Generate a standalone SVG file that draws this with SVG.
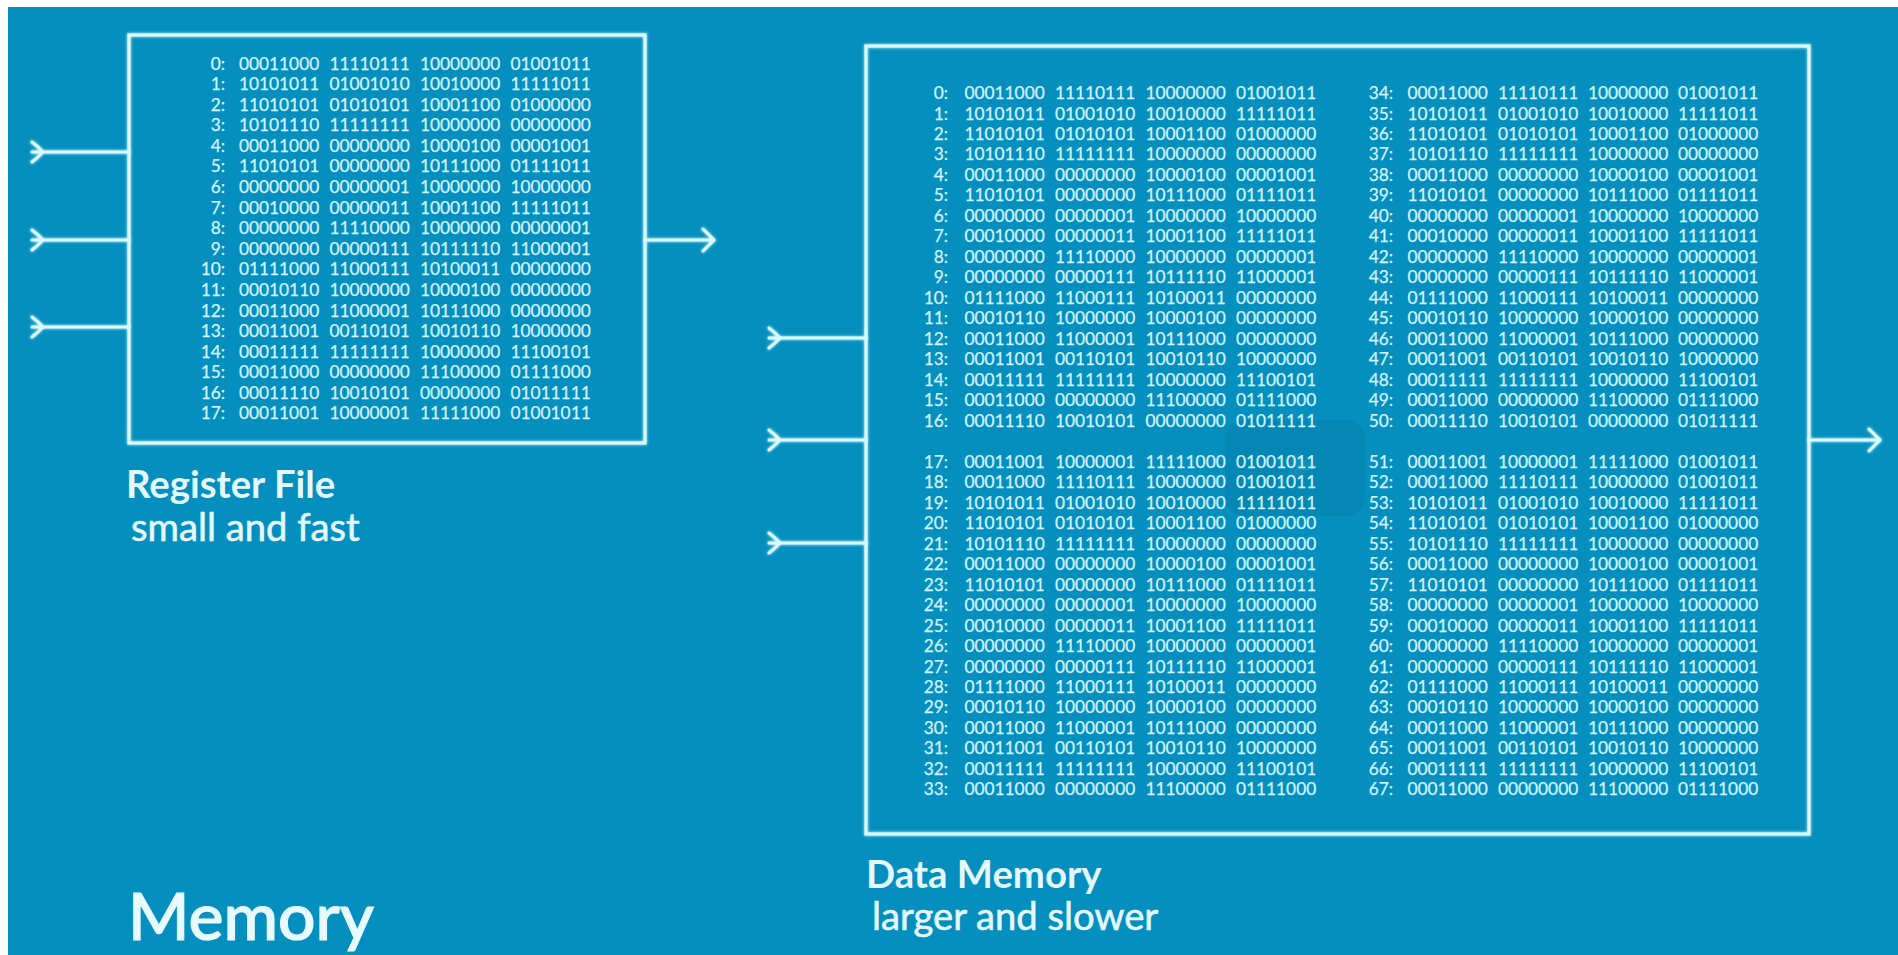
<svg xmlns="http://www.w3.org/2000/svg" width="1898" height="955" viewBox="0 0 1898 955">
  <style>
    .bg { fill: #048fbf; }
    .wire { fill: none; stroke: #d9fbff; stroke-width: 3; stroke-linecap: round; stroke-linejoin: round; }
    .frame { fill: none; stroke: #d9fbff; stroke-width: 3.2; }
    .bits { font-family: Lato, "Liberation Sans", sans-serif; font-size: 17.3px; fill: #d4f4ff; stroke: #d4f4ff; stroke-width: 0.25; }
    .idx { text-anchor: end; }
    .title { font-family: Lato, "Liberation Sans", sans-serif; font-weight: 700; font-size: 38.3px; fill: #e4f9ff; }
    .sub { font-family: Lato, "Liberation Sans", sans-serif; font-size: 38.2px; fill: #e4f9ff; stroke: #e4f9ff; stroke-width: 0.6; }
    .heading { font-family: Lato, "Liberation Sans", sans-serif; font-weight: 500; font-size: 66px; fill: #e6faff; stroke: #e6faff; stroke-width: 1.2; }
  </style>
  <defs>
    <filter id="glow" x="-5%" y="-5%" width="110%" height="110%">
      <feGaussianBlur in="SourceGraphic" stdDeviation="1.8" result="b"/>
      <feMerge>
        <feMergeNode in="b"/>
        <feMergeNode in="SourceGraphic"/>
      </feMerge>
    </filter>
    <marker id="tail" markerUnits="userSpaceOnUse" markerWidth="16" markerHeight="26" viewBox="-2 -13 16 26" refX="0" refY="0" orient="auto">
      <path d="M0,-10 Q6.5,-5 11,0 Q6.5,5 0,10" fill="none" stroke="#d9fbff" stroke-width="3" stroke-linecap="round"/>
    </marker>
    <marker id="head" markerUnits="userSpaceOnUse" markerWidth="16" markerHeight="28" viewBox="-14 -14 16 28" refX="0" refY="0" orient="auto">
      <path d="M-11,-11 L0,0 L-11,11" fill="none" stroke="#d9fbff" stroke-width="3" stroke-linecap="round" stroke-linejoin="round"/>
    </marker>
  </defs>

  <!-- canvas -->
  <rect width="1898" height="955" fill="#ffffff"/>
  <rect class="bg" x="8" y="7" width="1890" height="948"/>

  <!-- faint overlay badge -->
  <rect x="1225" y="420" width="140" height="96" rx="18" fill="#00324a" opacity="0.07"/>
  <path d="M1290,452 L1318,466 L1290,480 Z" fill="#ffffff" opacity="0.05"/>

  <!-- wires -->
  <g id="connectors" filter="url(#glow)">
    <path class="wire" d="M32,152 H129" marker-start="url(#tail)"/>
    <path class="wire" d="M32,240 H129" marker-start="url(#tail)"/>
    <path class="wire" d="M32,327 H129" marker-start="url(#tail)"/>
    <path class="wire" d="M645,240 H714" marker-end="url(#head)"/>
    <path class="wire" d="M769,338 H866" marker-start="url(#tail)"/>
    <path class="wire" d="M769,440 H866" marker-start="url(#tail)"/>
    <path class="wire" d="M769,543 H866" marker-start="url(#tail)"/>
    <path class="wire" d="M1809,440 H1880" marker-end="url(#head)"/>
  </g>

  <!-- register file -->
  <g id="register-file">
    <rect class="frame" x="129" y="35" width="516" height="408" filter="url(#glow)"/>
    <g class="bits">
      <text y="69.5"><tspan class="idx" x="225">0:</tspan><tspan x="239">00011000</tspan><tspan x="329.5">11110111</tspan><tspan x="420">10000000</tspan><tspan x="510.5">01001011</tspan></text>
      <text y="90.1"><tspan class="idx" x="225">1:</tspan><tspan x="239">10101011</tspan><tspan x="329.5">01001010</tspan><tspan x="420">10010000</tspan><tspan x="510.5">11111011</tspan></text>
      <text y="110.7"><tspan class="idx" x="225">2:</tspan><tspan x="239">11010101</tspan><tspan x="329.5">01010101</tspan><tspan x="420">10001100</tspan><tspan x="510.5">01000000</tspan></text>
      <text y="131.2"><tspan class="idx" x="225">3:</tspan><tspan x="239">10101110</tspan><tspan x="329.5">11111111</tspan><tspan x="420">10000000</tspan><tspan x="510.5">00000000</tspan></text>
      <text y="151.8"><tspan class="idx" x="225">4:</tspan><tspan x="239">00011000</tspan><tspan x="329.5">00000000</tspan><tspan x="420">10000100</tspan><tspan x="510.5">00001001</tspan></text>
      <text y="172.4"><tspan class="idx" x="225">5:</tspan><tspan x="239">11010101</tspan><tspan x="329.5">00000000</tspan><tspan x="420">10111000</tspan><tspan x="510.5">01111011</tspan></text>
      <text y="193.0"><tspan class="idx" x="225">6:</tspan><tspan x="239">00000000</tspan><tspan x="329.5">00000001</tspan><tspan x="420">10000000</tspan><tspan x="510.5">10000000</tspan></text>
      <text y="213.6"><tspan class="idx" x="225">7:</tspan><tspan x="239">00010000</tspan><tspan x="329.5">00000011</tspan><tspan x="420">10001100</tspan><tspan x="510.5">11111011</tspan></text>
      <text y="234.1"><tspan class="idx" x="225">8:</tspan><tspan x="239">00000000</tspan><tspan x="329.5">11110000</tspan><tspan x="420">10000000</tspan><tspan x="510.5">00000001</tspan></text>
      <text y="254.7"><tspan class="idx" x="225">9:</tspan><tspan x="239">00000000</tspan><tspan x="329.5">00000111</tspan><tspan x="420">10111110</tspan><tspan x="510.5">11000001</tspan></text>
      <text y="275.3"><tspan class="idx" x="225">10:</tspan><tspan x="239">01111000</tspan><tspan x="329.5">11000111</tspan><tspan x="420">10100011</tspan><tspan x="510.5">00000000</tspan></text>
      <text y="295.9"><tspan class="idx" x="225">11:</tspan><tspan x="239">00010110</tspan><tspan x="329.5">10000000</tspan><tspan x="420">10000100</tspan><tspan x="510.5">00000000</tspan></text>
      <text y="316.5"><tspan class="idx" x="225">12:</tspan><tspan x="239">00011000</tspan><tspan x="329.5">11000001</tspan><tspan x="420">10111000</tspan><tspan x="510.5">00000000</tspan></text>
      <text y="337.0"><tspan class="idx" x="225">13:</tspan><tspan x="239">00011001</tspan><tspan x="329.5">00110101</tspan><tspan x="420">10010110</tspan><tspan x="510.5">10000000</tspan></text>
      <text y="357.6"><tspan class="idx" x="225">14:</tspan><tspan x="239">00011111</tspan><tspan x="329.5">11111111</tspan><tspan x="420">10000000</tspan><tspan x="510.5">11100101</tspan></text>
      <text y="378.2"><tspan class="idx" x="225">15:</tspan><tspan x="239">00011000</tspan><tspan x="329.5">00000000</tspan><tspan x="420">11100000</tspan><tspan x="510.5">01111000</tspan></text>
      <text y="398.8"><tspan class="idx" x="225">16:</tspan><tspan x="239">00011110</tspan><tspan x="329.5">10010101</tspan><tspan x="420">00000000</tspan><tspan x="510.5">01011111</tspan></text>
      <text y="419.4"><tspan class="idx" x="225">17:</tspan><tspan x="239">00011001</tspan><tspan x="329.5">10000001</tspan><tspan x="420">11111000</tspan><tspan x="510.5">01001011</tspan></text>
    </g>
    <text class="title" x="126" y="498">Register File</text>
    <text class="sub" x="131" y="541">small and fast</text>
  </g>

  <!-- data memory: two banks of words side by side -->
  <g id="data-memory">
    <rect class="frame" x="866" y="46" width="943" height="788" filter="url(#glow)"/>
    <g class="bits">
      <text y="99.0"><tspan class="idx" x="948">0:</tspan><tspan x="964.5">00011000</tspan><tspan x="1055">11110111</tspan><tspan x="1145.5">10000000</tspan><tspan x="1236">01001011</tspan><tspan class="idx" x="1393">34:</tspan><tspan x="1407.5">00011000</tspan><tspan x="1498">11110111</tspan><tspan x="1588">10000000</tspan><tspan x="1678">01001011</tspan></text>
      <text y="119.5"><tspan class="idx" x="948">1:</tspan><tspan x="964.5">10101011</tspan><tspan x="1055">01001010</tspan><tspan x="1145.5">10010000</tspan><tspan x="1236">11111011</tspan><tspan class="idx" x="1393">35:</tspan><tspan x="1407.5">10101011</tspan><tspan x="1498">01001010</tspan><tspan x="1588">10010000</tspan><tspan x="1678">11111011</tspan></text>
      <text y="139.9"><tspan class="idx" x="948">2:</tspan><tspan x="964.5">11010101</tspan><tspan x="1055">01010101</tspan><tspan x="1145.5">10001100</tspan><tspan x="1236">01000000</tspan><tspan class="idx" x="1393">36:</tspan><tspan x="1407.5">11010101</tspan><tspan x="1498">01010101</tspan><tspan x="1588">10001100</tspan><tspan x="1678">01000000</tspan></text>
      <text y="160.4"><tspan class="idx" x="948">3:</tspan><tspan x="964.5">10101110</tspan><tspan x="1055">11111111</tspan><tspan x="1145.5">10000000</tspan><tspan x="1236">00000000</tspan><tspan class="idx" x="1393">37:</tspan><tspan x="1407.5">10101110</tspan><tspan x="1498">11111111</tspan><tspan x="1588">10000000</tspan><tspan x="1678">00000000</tspan></text>
      <text y="180.9"><tspan class="idx" x="948">4:</tspan><tspan x="964.5">00011000</tspan><tspan x="1055">00000000</tspan><tspan x="1145.5">10000100</tspan><tspan x="1236">00001001</tspan><tspan class="idx" x="1393">38:</tspan><tspan x="1407.5">00011000</tspan><tspan x="1498">00000000</tspan><tspan x="1588">10000100</tspan><tspan x="1678">00001001</tspan></text>
      <text y="201.4"><tspan class="idx" x="948">5:</tspan><tspan x="964.5">11010101</tspan><tspan x="1055">00000000</tspan><tspan x="1145.5">10111000</tspan><tspan x="1236">01111011</tspan><tspan class="idx" x="1393">39:</tspan><tspan x="1407.5">11010101</tspan><tspan x="1498">00000000</tspan><tspan x="1588">10111000</tspan><tspan x="1678">01111011</tspan></text>
      <text y="221.8"><tspan class="idx" x="948">6:</tspan><tspan x="964.5">00000000</tspan><tspan x="1055">00000001</tspan><tspan x="1145.5">10000000</tspan><tspan x="1236">10000000</tspan><tspan class="idx" x="1393">40:</tspan><tspan x="1407.5">00000000</tspan><tspan x="1498">00000001</tspan><tspan x="1588">10000000</tspan><tspan x="1678">10000000</tspan></text>
      <text y="242.3"><tspan class="idx" x="948">7:</tspan><tspan x="964.5">00010000</tspan><tspan x="1055">00000011</tspan><tspan x="1145.5">10001100</tspan><tspan x="1236">11111011</tspan><tspan class="idx" x="1393">41:</tspan><tspan x="1407.5">00010000</tspan><tspan x="1498">00000011</tspan><tspan x="1588">10001100</tspan><tspan x="1678">11111011</tspan></text>
      <text y="262.8"><tspan class="idx" x="948">8:</tspan><tspan x="964.5">00000000</tspan><tspan x="1055">11110000</tspan><tspan x="1145.5">10000000</tspan><tspan x="1236">00000001</tspan><tspan class="idx" x="1393">42:</tspan><tspan x="1407.5">00000000</tspan><tspan x="1498">11110000</tspan><tspan x="1588">10000000</tspan><tspan x="1678">00000001</tspan></text>
      <text y="283.2"><tspan class="idx" x="948">9:</tspan><tspan x="964.5">00000000</tspan><tspan x="1055">00000111</tspan><tspan x="1145.5">10111110</tspan><tspan x="1236">11000001</tspan><tspan class="idx" x="1393">43:</tspan><tspan x="1407.5">00000000</tspan><tspan x="1498">00000111</tspan><tspan x="1588">10111110</tspan><tspan x="1678">11000001</tspan></text>
      <text y="303.7"><tspan class="idx" x="948">10:</tspan><tspan x="964.5">01111000</tspan><tspan x="1055">11000111</tspan><tspan x="1145.5">10100011</tspan><tspan x="1236">00000000</tspan><tspan class="idx" x="1393">44:</tspan><tspan x="1407.5">01111000</tspan><tspan x="1498">11000111</tspan><tspan x="1588">10100011</tspan><tspan x="1678">00000000</tspan></text>
      <text y="324.2"><tspan class="idx" x="948">11:</tspan><tspan x="964.5">00010110</tspan><tspan x="1055">10000000</tspan><tspan x="1145.5">10000100</tspan><tspan x="1236">00000000</tspan><tspan class="idx" x="1393">45:</tspan><tspan x="1407.5">00010110</tspan><tspan x="1498">10000000</tspan><tspan x="1588">10000100</tspan><tspan x="1678">00000000</tspan></text>
      <text y="344.6"><tspan class="idx" x="948">12:</tspan><tspan x="964.5">00011000</tspan><tspan x="1055">11000001</tspan><tspan x="1145.5">10111000</tspan><tspan x="1236">00000000</tspan><tspan class="idx" x="1393">46:</tspan><tspan x="1407.5">00011000</tspan><tspan x="1498">11000001</tspan><tspan x="1588">10111000</tspan><tspan x="1678">00000000</tspan></text>
      <text y="365.1"><tspan class="idx" x="948">13:</tspan><tspan x="964.5">00011001</tspan><tspan x="1055">00110101</tspan><tspan x="1145.5">10010110</tspan><tspan x="1236">10000000</tspan><tspan class="idx" x="1393">47:</tspan><tspan x="1407.5">00011001</tspan><tspan x="1498">00110101</tspan><tspan x="1588">10010110</tspan><tspan x="1678">10000000</tspan></text>
      <text y="385.6"><tspan class="idx" x="948">14:</tspan><tspan x="964.5">00011111</tspan><tspan x="1055">11111111</tspan><tspan x="1145.5">10000000</tspan><tspan x="1236">11100101</tspan><tspan class="idx" x="1393">48:</tspan><tspan x="1407.5">00011111</tspan><tspan x="1498">11111111</tspan><tspan x="1588">10000000</tspan><tspan x="1678">11100101</tspan></text>
      <text y="406.1"><tspan class="idx" x="948">15:</tspan><tspan x="964.5">00011000</tspan><tspan x="1055">00000000</tspan><tspan x="1145.5">11100000</tspan><tspan x="1236">01111000</tspan><tspan class="idx" x="1393">49:</tspan><tspan x="1407.5">00011000</tspan><tspan x="1498">00000000</tspan><tspan x="1588">11100000</tspan><tspan x="1678">01111000</tspan></text>
      <text y="426.5"><tspan class="idx" x="948">16:</tspan><tspan x="964.5">00011110</tspan><tspan x="1055">10010101</tspan><tspan x="1145.5">00000000</tspan><tspan x="1236">01011111</tspan><tspan class="idx" x="1393">50:</tspan><tspan x="1407.5">00011110</tspan><tspan x="1498">10010101</tspan><tspan x="1588">00000000</tspan><tspan x="1678">01011111</tspan></text>

      <text y="467.8"><tspan class="idx" x="948">17:</tspan><tspan x="964.5">00011001</tspan><tspan x="1055">10000001</tspan><tspan x="1145.5">11111000</tspan><tspan x="1236">01001011</tspan><tspan class="idx" x="1393">51:</tspan><tspan x="1407.5">00011001</tspan><tspan x="1498">10000001</tspan><tspan x="1588">11111000</tspan><tspan x="1678">01001011</tspan></text>
      <text y="488.3"><tspan class="idx" x="948">18:</tspan><tspan x="964.5">00011000</tspan><tspan x="1055">11110111</tspan><tspan x="1145.5">10000000</tspan><tspan x="1236">01001011</tspan><tspan class="idx" x="1393">52:</tspan><tspan x="1407.5">00011000</tspan><tspan x="1498">11110111</tspan><tspan x="1588">10000000</tspan><tspan x="1678">01001011</tspan></text>
      <text y="508.7"><tspan class="idx" x="948">19:</tspan><tspan x="964.5">10101011</tspan><tspan x="1055">01001010</tspan><tspan x="1145.5">10010000</tspan><tspan x="1236">11111011</tspan><tspan class="idx" x="1393">53:</tspan><tspan x="1407.5">10101011</tspan><tspan x="1498">01001010</tspan><tspan x="1588">10010000</tspan><tspan x="1678">11111011</tspan></text>
      <text y="529.2"><tspan class="idx" x="948">20:</tspan><tspan x="964.5">11010101</tspan><tspan x="1055">01010101</tspan><tspan x="1145.5">10001100</tspan><tspan x="1236">01000000</tspan><tspan class="idx" x="1393">54:</tspan><tspan x="1407.5">11010101</tspan><tspan x="1498">01010101</tspan><tspan x="1588">10001100</tspan><tspan x="1678">01000000</tspan></text>
      <text y="549.7"><tspan class="idx" x="948">21:</tspan><tspan x="964.5">10101110</tspan><tspan x="1055">11111111</tspan><tspan x="1145.5">10000000</tspan><tspan x="1236">00000000</tspan><tspan class="idx" x="1393">55:</tspan><tspan x="1407.5">10101110</tspan><tspan x="1498">11111111</tspan><tspan x="1588">10000000</tspan><tspan x="1678">00000000</tspan></text>
      <text y="570.2"><tspan class="idx" x="948">22:</tspan><tspan x="964.5">00011000</tspan><tspan x="1055">00000000</tspan><tspan x="1145.5">10000100</tspan><tspan x="1236">00001001</tspan><tspan class="idx" x="1393">56:</tspan><tspan x="1407.5">00011000</tspan><tspan x="1498">00000000</tspan><tspan x="1588">10000100</tspan><tspan x="1678">00001001</tspan></text>
      <text y="590.6"><tspan class="idx" x="948">23:</tspan><tspan x="964.5">11010101</tspan><tspan x="1055">00000000</tspan><tspan x="1145.5">10111000</tspan><tspan x="1236">01111011</tspan><tspan class="idx" x="1393">57:</tspan><tspan x="1407.5">11010101</tspan><tspan x="1498">00000000</tspan><tspan x="1588">10111000</tspan><tspan x="1678">01111011</tspan></text>
      <text y="611.1"><tspan class="idx" x="948">24:</tspan><tspan x="964.5">00000000</tspan><tspan x="1055">00000001</tspan><tspan x="1145.5">10000000</tspan><tspan x="1236">10000000</tspan><tspan class="idx" x="1393">58:</tspan><tspan x="1407.5">00000000</tspan><tspan x="1498">00000001</tspan><tspan x="1588">10000000</tspan><tspan x="1678">10000000</tspan></text>
      <text y="631.6"><tspan class="idx" x="948">25:</tspan><tspan x="964.5">00010000</tspan><tspan x="1055">00000011</tspan><tspan x="1145.5">10001100</tspan><tspan x="1236">11111011</tspan><tspan class="idx" x="1393">59:</tspan><tspan x="1407.5">00010000</tspan><tspan x="1498">00000011</tspan><tspan x="1588">10001100</tspan><tspan x="1678">11111011</tspan></text>
      <text y="652.0"><tspan class="idx" x="948">26:</tspan><tspan x="964.5">00000000</tspan><tspan x="1055">11110000</tspan><tspan x="1145.5">10000000</tspan><tspan x="1236">00000001</tspan><tspan class="idx" x="1393">60:</tspan><tspan x="1407.5">00000000</tspan><tspan x="1498">11110000</tspan><tspan x="1588">10000000</tspan><tspan x="1678">00000001</tspan></text>
      <text y="672.5"><tspan class="idx" x="948">27:</tspan><tspan x="964.5">00000000</tspan><tspan x="1055">00000111</tspan><tspan x="1145.5">10111110</tspan><tspan x="1236">11000001</tspan><tspan class="idx" x="1393">61:</tspan><tspan x="1407.5">00000000</tspan><tspan x="1498">00000111</tspan><tspan x="1588">10111110</tspan><tspan x="1678">11000001</tspan></text>
      <text y="693.0"><tspan class="idx" x="948">28:</tspan><tspan x="964.5">01111000</tspan><tspan x="1055">11000111</tspan><tspan x="1145.5">10100011</tspan><tspan x="1236">00000000</tspan><tspan class="idx" x="1393">62:</tspan><tspan x="1407.5">01111000</tspan><tspan x="1498">11000111</tspan><tspan x="1588">10100011</tspan><tspan x="1678">00000000</tspan></text>
      <text y="713.4"><tspan class="idx" x="948">29:</tspan><tspan x="964.5">00010110</tspan><tspan x="1055">10000000</tspan><tspan x="1145.5">10000100</tspan><tspan x="1236">00000000</tspan><tspan class="idx" x="1393">63:</tspan><tspan x="1407.5">00010110</tspan><tspan x="1498">10000000</tspan><tspan x="1588">10000100</tspan><tspan x="1678">00000000</tspan></text>
      <text y="733.9"><tspan class="idx" x="948">30:</tspan><tspan x="964.5">00011000</tspan><tspan x="1055">11000001</tspan><tspan x="1145.5">10111000</tspan><tspan x="1236">00000000</tspan><tspan class="idx" x="1393">64:</tspan><tspan x="1407.5">00011000</tspan><tspan x="1498">11000001</tspan><tspan x="1588">10111000</tspan><tspan x="1678">00000000</tspan></text>
      <text y="754.4"><tspan class="idx" x="948">31:</tspan><tspan x="964.5">00011001</tspan><tspan x="1055">00110101</tspan><tspan x="1145.5">10010110</tspan><tspan x="1236">10000000</tspan><tspan class="idx" x="1393">65:</tspan><tspan x="1407.5">00011001</tspan><tspan x="1498">00110101</tspan><tspan x="1588">10010110</tspan><tspan x="1678">10000000</tspan></text>
      <text y="774.9"><tspan class="idx" x="948">32:</tspan><tspan x="964.5">00011111</tspan><tspan x="1055">11111111</tspan><tspan x="1145.5">10000000</tspan><tspan x="1236">11100101</tspan><tspan class="idx" x="1393">66:</tspan><tspan x="1407.5">00011111</tspan><tspan x="1498">11111111</tspan><tspan x="1588">10000000</tspan><tspan x="1678">11100101</tspan></text>
      <text y="795.3"><tspan class="idx" x="948">33:</tspan><tspan x="964.5">00011000</tspan><tspan x="1055">00000000</tspan><tspan x="1145.5">11100000</tspan><tspan x="1236">01111000</tspan><tspan class="idx" x="1393">67:</tspan><tspan x="1407.5">00011000</tspan><tspan x="1498">00000000</tspan><tspan x="1588">11100000</tspan><tspan x="1678">01111000</tspan></text>
    </g>
    <text class="title" x="866" y="888">Data Memory</text>
    <text class="sub" x="872" y="930">larger and slower</text>
  </g>

  <!-- section heading -->
  <text id="heading" class="heading" x="128" y="940">Memory</text>
</svg>
